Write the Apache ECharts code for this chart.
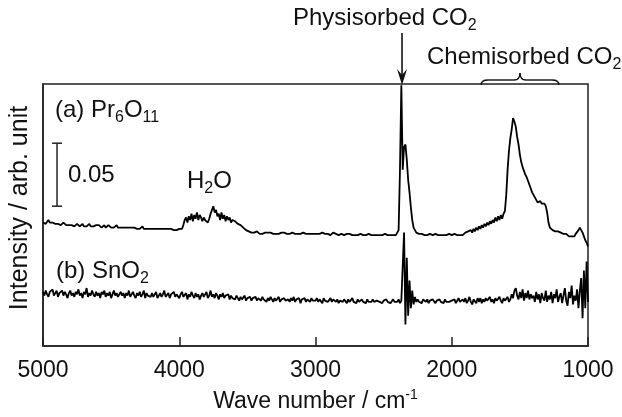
<!DOCTYPE html>
<html><head><meta charset="utf-8">
<script src="https://cdn.jsdelivr.net/npm/echarts@6/dist/echarts.min.js"></script>
<style>html,body{margin:0;padding:0;background:#fff}#c{width:622px;height:417px}</style>
</head><body><div id="c"></div>
<script>
// ---- data ----
const xTicks = [5000, 4000, 3000, 2000, 1000];
const waveStart = 5000, waveStep = 10;   // wave-number grid of the spectra (cm-1)
// (a) Pr6O11 spectrum, intensity in mA (arb.), 5000 -> 1000 cm-1
const specA = [
98,99,97,98,100,98,97,98,99,97,98,97,98,96,97,98,97,96,97,96,
97,96,97,95,96,97,96,95,96,97,95,96,95,96,97,95,96,95,94,96,
95,96,95,94,95,96,94,95,96,95,94,95,94,95,96,94,95,94,95,94,
95,94,93,94,95,94,93,94,95,93,94,93,94,95,93,94,93,94,93,94,
93,94,93,92,93,94,93,92,93,94,93,92,93,92,93,94,92,93,92,93,
93,92,93,96,100,102,98,103,100,105,99,104,101,106,100,104,102,99,102,100,
99,98,101,105,108,111,106,108,103,105,100,106,101,104,99,103,100,102,98,100,
101,99,100,97,98,96,95,94,93,92,92,91,91,90,91,90,90,91,90,89,
90,89,90,90,89,90,89,90,90,89,90,89,90,89,89,90,89,90,89,89,
90,89,89,90,89,89,90,89,90,89,89,90,89,89,90,89,88,89,90,89,
89,89,90,89,89,90,89,89,90,89,89,88,89,90,89,89,89,88,89,89,
89,88,89,89,88,89,88,88,89,88,89,88,88,89,88,88,89,88,88,89,
88,88,89,88,88,88,89,88,88,88,88,89,88,88,88,88,88,88,88,88,
88,92,140,207,140,158,160,148,132,122,110,100,94,92,90,89,89,88,89,88,
88,89,88,88,89,88,88,88,89,88,88,89,88,88,88,89,88,88,89,88,
88,88,89,88,88,89,88,89,88,89,90,89,91,90,92,90,93,91,94,92,
95,93,96,94,97,95,98,96,99,97,100,98,102,99,103,100,104,101,105,107,
120,140,155,165,172,181,178,174,166,160,152,146,142,139,136,134,131,128,125,122,
120,118,116,114,114,115,113,114,113,111,106,98,94,93,92,92,91,90,91,90,
90,90,89,88,89,88,87,88,87,86,87,89,90,92,94,95,90,87,84,82,
79];
// (b) SnO2 spectrum
const specB = [
43,40,44,41,39,43,42,45,40,42,44,39,42,41,44,40,43,41,38,42,
44,40,42,39,43,41,45,40,42,38,43,41,46,39,42,40,44,41,39,43,
40,42,38,43,41,44,39,42,40,43,38,41,44,40,42,39,41,43,40,42,
38,42,40,44,39,41,43,40,38,42,40,43,39,41,44,38,42,40,41,39,
42,39,41,43,38,40,42,39,41,44,39,40,42,38,41,40,43,39,41,40,
38,41,43,39,40,42,37,41,39,43,40,38,42,39,41,37,40,42,39,41,
43,38,40,44,39,41,38,42,40,37,41,39,42,38,40,39,41,37,40,38,
39,37,40,38,36,39,37,38,40,36,38,37,39,36,38,37,39,36,38,37,
36,39,37,38,35,38,36,39,37,35,38,36,37,39,35,37,36,38,36,37,
37,35,38,36,39,35,37,36,38,34,37,36,38,35,37,36,35,38,36,37,
36,38,35,37,36,34,38,36,37,35,36,38,35,37,36,35,37,34,36,37,
35,37,36,34,37,35,36,38,35,36,34,37,35,36,37,35,36,34,37,35,
36,35,37,35,34,36,37,35,36,34,36,35,37,35,36,34,35,37,35,36,
35,37,34,36,36,90,17,70,24,52,30,44,33,39,35,37,35,36,34,37,
36,35,37,34,36,35,37,36,34,36,35,37,35,36,34,37,35,36,35,34,
36,35,37,34,36,38,35,34,37,35,38,34,36,39,35,33,37,36,34,38,
35,38,34,37,35,38,36,35,39,35,37,34,38,36,35,39,36,34,38,36,
36,39,35,37,41,38,44,46,40,37,43,38,45,36,42,38,44,37,41,38,
40,35,43,37,41,34,42,38,36,44,35,40,37,43,34,41,38,45,35,39,
42,34,40,46,36,32,43,38,48,33,40,36,45,30,44,54,22,60,30,67,
35];
const scaleBar = [[4897, 111, 161]];     // wave number, from, to  (0.05 = 50 units)
const arrowWave = [2365];                // physisorbed CO2 arrow
const braceWaves = [1785, 1213];         // chemisorbed CO2 brace range
const labels = {
  a: '(a) Pr{sub|6}O{sub|11}',
  b: '(b) SnO{sub|2}',
  scale: '0.05',
  h2o: 'H{sub|2}O',
  phys: 'Physisorbed CO{sub|2}',
  chem: 'Chemisorbed CO{sub|2}',
  xName: 'Wave number / cm{sup|-1}',
  yName: 'Intensity / arb. unit'
};

// ---- chart ----
const FONT = '"Liberation Sans", Arial, Helvetica, sans-serif';
const INK = '#111';
const toPairs = arr => arr.map((v, i) => [waveStart - i * waveStep, v]);
const richSub = {
  sub: { fontSize: 16, lineHeight: 16, verticalAlign: 'bottom', fontFamily: FONT, color: INK },
  sup: { fontSize: 14, lineHeight: 14, verticalAlign: 'top', fontFamily: FONT, color: INK }
};
function txt(text, x, y, size) {
  return { type: 'text', x: x, y: y, z: 100,
    style: { text: text, fontSize: size || 24, fontFamily: FONT, fill: INK, lineHeight: 32,
      verticalAlign: 'middle', align: 'left', rich: richSub } };
}
const chart = echarts.init(document.getElementById('c'), null, { renderer: 'canvas' });
chart.setOption({
  backgroundColor: '#fff',
  animation: false,
  grid: { left: 43, right: 34, top: 84, bottom: 71, outerBoundsMode: 'none', containLabel: false,
    show: true, borderColor: '#222', borderWidth: 1.5, backgroundColor: 'transparent' },
  xAxis: {
    type: 'value', inverse: true, min: 1000, max: 5000, interval: 1000,
    axisLine: { show: true, lineStyle: { color: '#222', width: 1.5 } },
    axisTick: { show: true, inside: true, length: 9, lineStyle: { color: '#222', width: 1.5 } },
    axisLabel: { fontSize: 23, color: INK, margin: 13, fontFamily: FONT, showMinLabel: true, showMaxLabel: true,
      formatter: v => xTicks.indexOf(v) >= 0 ? String(v) : '' },
    splitLine: { show: false },
    name: labels.xName, nameLocation: 'middle', nameGap: 42,
    nameTextStyle: { fontSize: 23, color: INK, fontFamily: FONT, lineHeight: 28, rich: richSub }
  },
  yAxis: {
    type: 'value', min: 0, max: 208,
    axisLine: { show: true, lineStyle: { color: '#222', width: 1.5 } },
    axisTick: { show: false }, axisLabel: { show: false }, splitLine: { show: false },
    name: labels.yName, nameLocation: 'middle', nameGap: 10,
    nameTextStyle: { fontSize: 25, color: INK, fontFamily: FONT, padding: [0, 0, 0, 14] }
  },
  series: [
    { name: 'Pr6O11', type: 'line', data: toPairs(specA), showSymbol: false, symbol: 'none',
      lineStyle: { color: '#000', width: 1.8 }, clip: false },
    { name: 'SnO2', type: 'line', data: toPairs(specB), showSymbol: false, symbol: 'none',
      lineStyle: { color: '#000', width: 1.8 } },
    { name: 'scale', type: 'custom', data: scaleBar, encode: { x: 0, y: [1, 2] },
      renderItem: function (params, api) {
        const p0 = api.coord([api.value(0), api.value(1)]);
        const p1 = api.coord([api.value(0), api.value(2)]);
        const st = { stroke: '#222', lineWidth: 1.5 };
        return { type: 'group', children: [
          { type: 'line', shape: { x1: p0[0], y1: p0[1], x2: p1[0], y2: p1[1] }, style: st },
          { type: 'line', shape: { x1: p0[0] - 5, y1: p0[1], x2: p0[0] + 5, y2: p0[1] }, style: st },
          { type: 'line', shape: { x1: p1[0] - 5, y1: p1[1], x2: p1[0] + 5, y2: p1[1] }, style: st }
        ]};
      } }
  ]
});
const plotTop = 84;
const ax = chart.convertToPixel({ xAxisIndex: 0 }, arrowWave[0]);
const b1 = chart.convertToPixel({ xAxisIndex: 0 }, braceWaves[0]);
const b2 = chart.convertToPixel({ xAxisIndex: 0 }, braceWaves[1]);
const bm = (b1 + b2) / 2;
const braceY = plotTop - 4;
const bst = { stroke: '#111', lineWidth: 1.4, fill: null };
function qc(x1, y1, cx, cy, x2, y2) {
  return { type: 'bezierCurve', z: 100, shape: { x1: x1, y1: y1, cpx1: cx, cpy1: cy, x2: x2, y2: y2 }, style: bst };
}
function ln(x1, y1, x2, y2) {
  return { type: 'line', z: 100, shape: { x1: x1, y1: y1, x2: x2, y2: y2 }, style: bst };
}
chart.setOption({
  graphic: [
    txt(labels.a, 55, 110),
    txt(labels.scale, 68, 175),
    txt(labels.h2o, 187, 181),
    txt(labels.b, 56, 271),
    txt(labels.phys, 293, 18),
    txt(labels.chem, 427, 57),
    { type: 'line', z: 100, shape: { x1: ax, y1: 33, x2: ax, y2: plotTop - 8 }, style: { stroke: '#111', lineWidth: 1.6 } },
    { type: 'polygon', z: 100, shape: { points: [[ax - 5, plotTop - 15], [ax, plotTop - 9], [ax + 5, plotTop - 15], [ax, plotTop + 1]] }, style: { fill: '#111' } },
    qc(b1, plotTop + 1, b1, braceY, b1 + 7, braceY),
    ln(b1 + 7, braceY, bm - 6, braceY),
    qc(bm - 6, braceY, bm, braceY, bm, braceY - 7),
    qc(bm, braceY - 7, bm, braceY, bm + 6, braceY),
    ln(bm + 6, braceY, b2 - 7, braceY),
    qc(b2 - 7, braceY, b2, braceY, b2, plotTop + 1)
  ]
});
</script></body></html>
